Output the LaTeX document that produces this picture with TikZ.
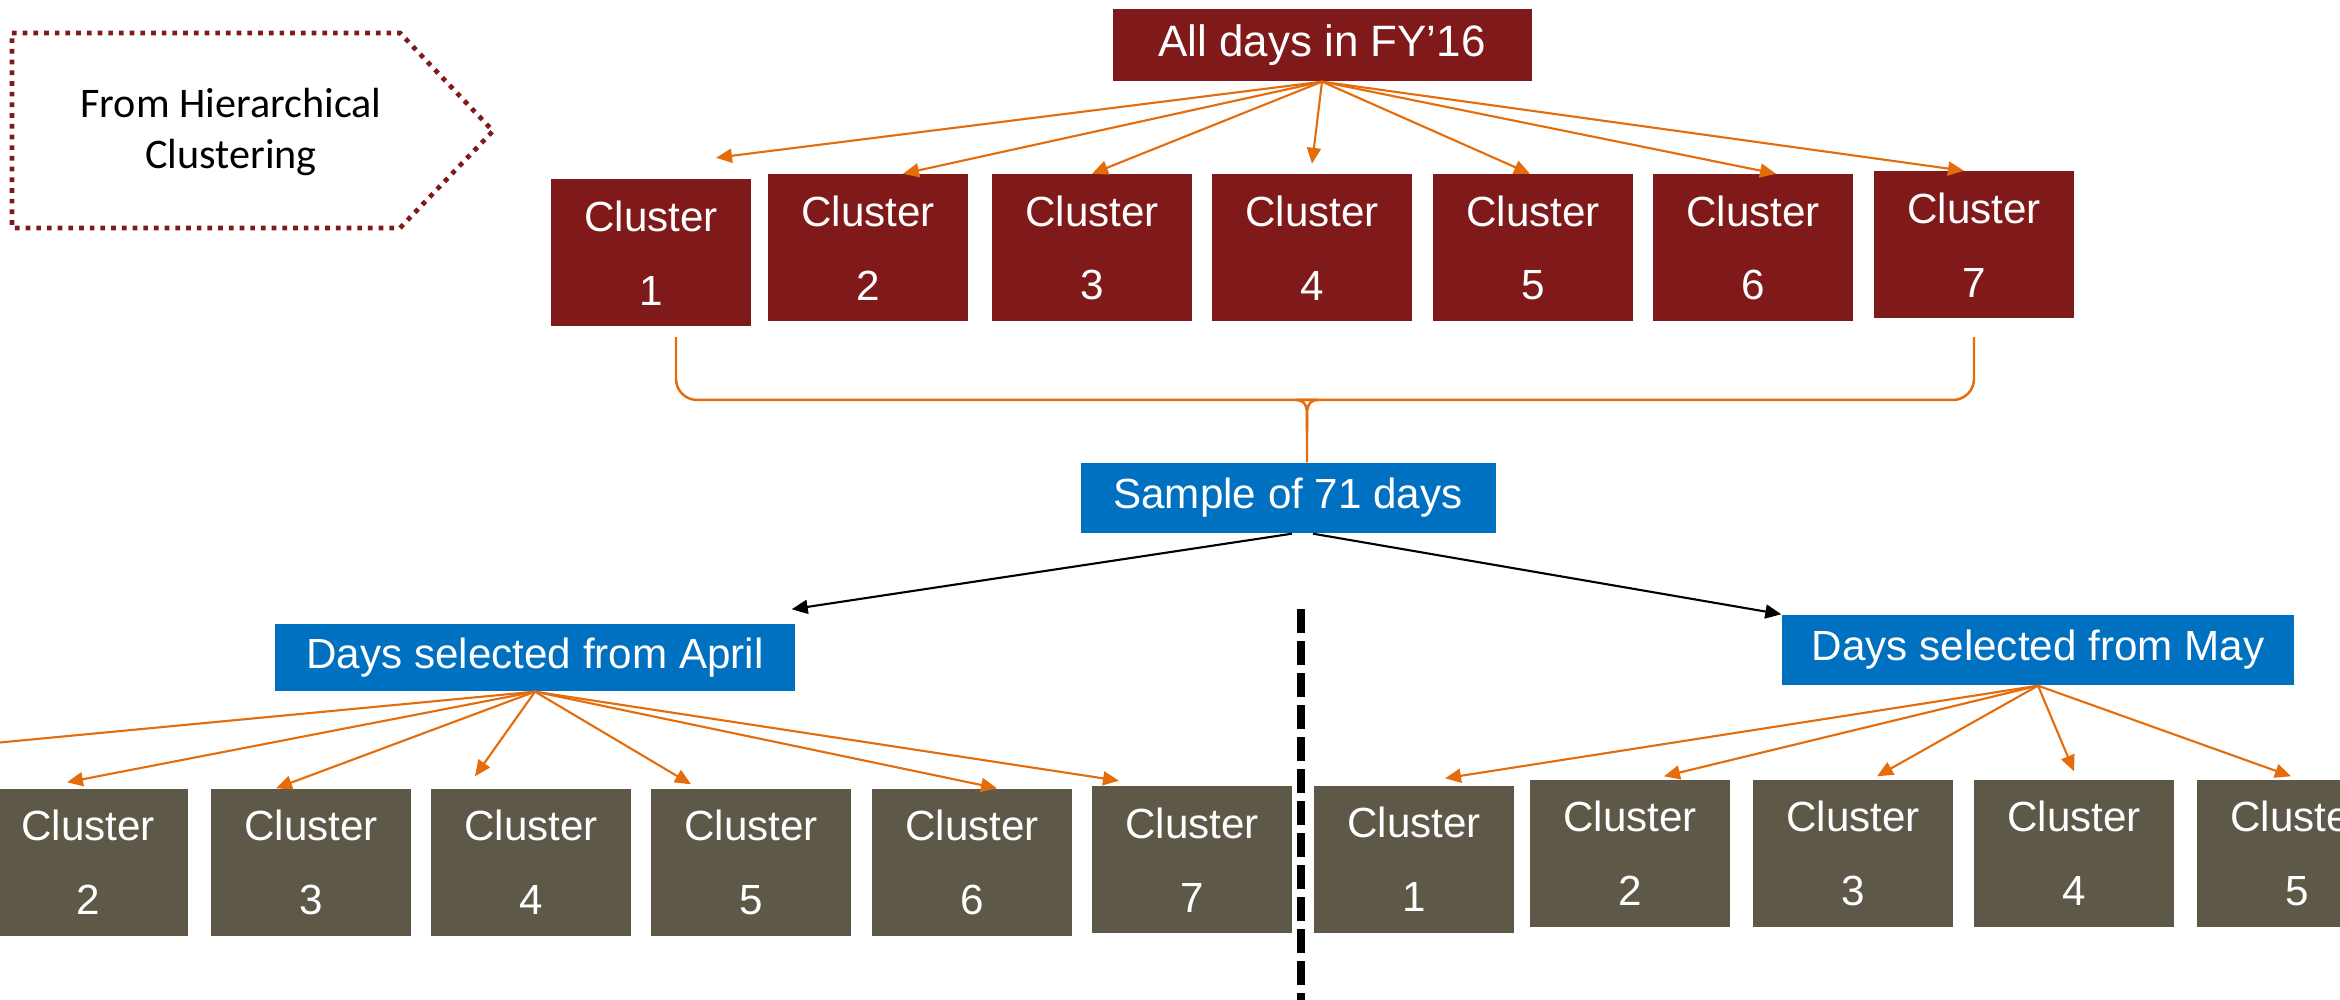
\documentclass[tikz,border=0pt]{standalone}
\usepackage{fontspec}
\setmainfont{Liberation Sans}
\newfontfamily\calibrifont{Carlito}
\definecolor{clred}{RGB}{128,26,26}
\definecolor{clblue}{RGB}{0,112,192}
\definecolor{clgray}{RGB}{94,88,72}
\definecolor{clorange}{RGB}{228,108,10}
\usetikzlibrary{arrows.meta,calc}
\tikzset{
  redbox/.style={fill=clred, text=white, inner sep=0pt, minimum width=2.0cm, minimum height=1.47cm, align=center, font=\fontsize{12}{21}\selectfont},
  graybox/.style={redbox, fill=clgray},
  bluebox/.style={fill=clblue, text=white, inner sep=0pt, minimum height=0.7cm, font=\fontsize{12}{14}\selectfont},
  orangearrow/.style={draw=clorange, line width=0.6pt, -{Triangle[length=1.6mm,width=1.4mm]}},
  blackarrow/.style={draw=black, line width=0.6pt, -{Triangle[length=1.6mm,width=1.4mm]}},
  bracepath/.style={draw=clorange, line width=0.7pt}
}

\begin{document}
\begin{tikzpicture}
  \path[use as bounding box, clip] (0,0) rectangle (23.4,10);
  % Source note
  \draw[clred, line width=0.47mm, dash pattern=on 0.47mm off 0.6mm] (0.12,9.67) -- (4.00,9.67) -- (4.93,8.69) -- (4.00,7.72) -- (0.12,7.72) -- cycle;
  \node[align=center, font=\calibrifont\fontsize{12}{14.4}\selectfont] (hier) at (2.31,8.68) {From Hierarchical\\Clustering};
  % All days
  \node[redbox, minimum width=4.19cm, minimum height=0.72cm, font=\fontsize{12.5}{14}\selectfont] (all) at (13.22,9.55) {All days in FY’16};
  % Top clusters
  \node[redbox] (t1) at (6.51,7.47) {Cluster\\1};
  \node[redbox] (t2) at (8.68,7.52) {Cluster\\2};
  \node[redbox] (t3) at (10.92,7.52) {Cluster\\3};
  \node[redbox] (t4) at (13.12,7.52) {Cluster\\4};
  \node[redbox] (t5) at (15.33,7.52) {Cluster\\5};
  \node[redbox] (t6) at (17.53,7.52) {Cluster\\6};
  \node[redbox] (t7) at (19.74,7.55) {Cluster\\7};
  \draw[orangearrow] (all.south) -- ([xshift=0.65cm,yshift=0.21cm]t1.north);
  \draw[orangearrow] (all.south) -- ([xshift=0.35cm]t2.north);
  \draw[orangearrow] (all.south) -- (t3.north);
  \draw[orangearrow] (all.south) -- ([yshift=0.1cm]t4.north);
  \draw[orangearrow] (all.south) -- ([xshift=-0.03cm]t5.north);
  \draw[orangearrow] (all.south) -- ([xshift=0.23cm]t6.north);
  \draw[orangearrow] (all.south) -- ([xshift=-0.1cm]t7.north);
  % Sample
  \node[bluebox, minimum width=4.15cm] (sample) at (12.88,5.02) {Sample of 71 days};
  \coordinate (brtip) at ([xshift=0.19cm]sample.north);
  \draw[bracepath] ([xshift=0.25cm,yshift=-0.1cm]t1.south) [rounded corners=6pt] |- (12.97,6.0) [sharp corners] .. controls (13.04,6.0) and (13.07,5.85) .. (13.07,5.67) -- (brtip);
  \draw[bracepath] ([yshift=-0.18cm]t7.south) [rounded corners=6pt] |- (13.17,6.0) [sharp corners] .. controls (13.10,6.0) and (13.07,5.85) .. (13.07,5.67);
  % Months
  \node[bluebox, minimum width=5.2cm, minimum height=0.67cm] (april) at (5.35,3.425) {Days selected from April};
  \node[bluebox, minimum width=5.12cm] (may) at (20.38,3.50) {Days selected from May};
  \draw[blackarrow] ([xshift=0.04cm]sample.south) -- ([xshift=-0.04cm,yshift=0.14cm]april.north east);
  \draw[blackarrow] ([xshift=0.25cm]sample.south) -- (may.north west);
  \draw[black, line width=0.8mm, dash pattern=on 2.4mm off 0.8mm] (13.01,3.91) -- (13.01,0);
  % April clusters
  \coordinate (l1top) at (-1.0,2.48);
  \node[graybox] (l2) at (0.88,1.375) {Cluster\\2};
  \node[graybox] (l3) at (3.11,1.375) {Cluster\\3};
  \node[graybox] (l4) at (5.31,1.375) {Cluster\\4};
  \node[graybox] (l5) at (7.51,1.375) {Cluster\\5};
  \node[graybox] (l6) at (9.72,1.375) {Cluster\\6};
  \node[graybox] (l7) at (11.92,1.40) {Cluster\\7};
  \draw[orangearrow] (april.south) -- (l1top);
  \draw[orangearrow] (april.south) -- ([xshift=-0.21cm,yshift=0.06cm]l2.north);
  \draw[orangearrow] (april.south) -- ([xshift=-0.35cm]l3.north);
  \draw[orangearrow] (april.south) -- ([xshift=-0.56cm,yshift=0.12cm]l4.north);
  \draw[orangearrow] (april.south) -- ([xshift=-0.6cm,yshift=0.04cm]l5.north);
  \draw[orangearrow] (april.south) -- ([xshift=0.25cm]l6.north);
  \draw[orangearrow] (april.south) -- ([xshift=-0.73cm,yshift=0.05cm]l7.north);
  % May clusters
  \node[graybox] (r1) at (14.14,1.405) {Cluster\\1};
  \node[graybox] (r2) at (16.30,1.465) {Cluster\\2};
  \node[graybox] (r3) at (18.53,1.465) {Cluster\\3};
  \node[graybox] (r4) at (20.74,1.465) {Cluster\\4};
  \node[graybox] (r5) at (22.97,1.465) {Cluster\\5};
  \draw[orangearrow] (may.south) -- ([xshift=0.31cm,yshift=0.07cm]r1.north);
  \draw[orangearrow] (may.south) -- ([xshift=0.34cm,yshift=0.03cm]r2.north);
  \draw[orangearrow] (may.south) -- ([xshift=0.24cm,yshift=0.03cm]r3.north);
  \draw[orangearrow] (may.south) -- ([yshift=0.08cm]r4.north);
  \draw[orangearrow] (may.south) -- ([xshift=-0.06cm,yshift=0.03cm]r5.north);
\end{tikzpicture}
\end{document}
